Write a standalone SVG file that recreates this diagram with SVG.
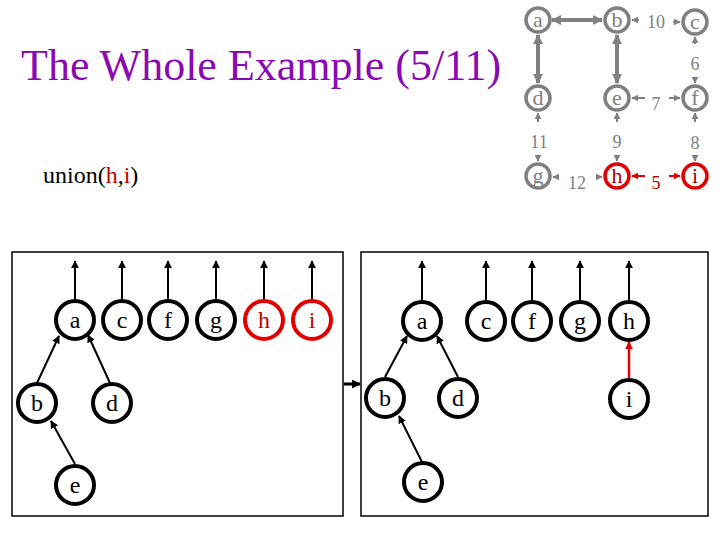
<svg xmlns="http://www.w3.org/2000/svg" width="720" height="540" viewBox="0 0 720 540">
<defs>
<style>
text{font-family:"Liberation Serif","Times New Roman",Times,"DejaVu Serif",serif}
.gn{fill:#fff;stroke:#808080;stroke-width:3.5}
.gr{fill:#fff;stroke:#e00000;stroke-width:3.5}
.gt{font-size:22px;fill:#808080;text-anchor:middle}
.rt{font-size:22px;fill:#b00000;text-anchor:middle}
.wl{font-size:18px;fill:#808080;text-anchor:middle}
.wr{font-size:18px;fill:#b00000;text-anchor:middle}
.thick{stroke:#808080;stroke-width:4;fill:none}
.thin{stroke:#808080;stroke-width:2;fill:none}
.thinr{stroke:#e00000;stroke-width:2;fill:none}
.bn{fill:#fff;stroke:#000;stroke-width:4}
.bnr{fill:#fff;stroke:#e00000;stroke-width:4}
.bt{font-size:24px;fill:#000;text-anchor:middle}
.btr{font-size:24px;fill:#c00000;text-anchor:middle}
.bl{stroke:#000;stroke-width:2;fill:none}
.blr{stroke:#e00000;stroke-width:2.5;fill:none}
</style>
<marker id="ga" viewBox="0 0 10 10" refX="9" refY="5" markerWidth="10" markerHeight="10" markerUnits="userSpaceOnUse" orient="auto-start-reverse"><path d="M0,0 L10,5 L0,10 z" fill="#808080"/></marker>
<marker id="gs" viewBox="0 0 10 10" refX="9" refY="5" markerWidth="7" markerHeight="7" markerUnits="userSpaceOnUse" orient="auto"><path d="M0,0 L10,5 L0,10 z" fill="#808080"/></marker>
<marker id="rs" viewBox="0 0 10 10" refX="9" refY="5" markerWidth="7" markerHeight="7" markerUnits="userSpaceOnUse" orient="auto"><path d="M0,0 L10,5 L0,10 z" fill="#e00000"/></marker>
<marker id="ba" viewBox="0 0 10 10" refX="9" refY="5" markerWidth="8" markerHeight="8" markerUnits="userSpaceOnUse" orient="auto"><path d="M0,0 L10,5 L0,10 z" fill="#000"/></marker>
<marker id="ra" viewBox="0 0 10 10" refX="9" refY="5" markerWidth="8" markerHeight="8" markerUnits="userSpaceOnUse" orient="auto"><path d="M0,0 L10,5 L0,10 z" fill="#e00000"/></marker>
<marker id="bb" viewBox="0 0 10 10" refX="9" refY="5" markerWidth="9" markerHeight="9" markerUnits="userSpaceOnUse" orient="auto"><path d="M0,0 L10,5 L0,10 z" fill="#000"/></marker>
</defs>
<rect width="720" height="540" fill="#fff"/>
<text x="21" y="80" font-size="44" fill="#8a0ab4">The Whole Example (5/11)</text>
<text x="43" y="183" font-size="24" fill="#000">union(<tspan fill="#c00000">h</tspan>,<tspan fill="#c00000">i</tspan>)</text>

<g id="connectors">
<line class="thick" x1="552" y1="20" x2="602" y2="20" marker-start="url(#ga)" marker-end="url(#ga)"/>
<line class="thick" x1="538" y1="35" x2="538" y2="83" marker-start="url(#ga)" marker-end="url(#ga)"/>
<line class="thick" x1="617" y1="35" x2="617" y2="83" marker-start="url(#ga)" marker-end="url(#ga)"/>
<line class="thin" x1="639" y1="20" x2="632" y2="20" marker-end="url(#gs)"/>
<line class="thin" x1="673" y1="22" x2="680" y2="22" marker-end="url(#gs)"/>
<line class="thin" x1="695" y1="44" x2="695" y2="37" marker-end="url(#gs)"/>
<line class="thin" x1="695" y1="79" x2="695" y2="83" marker-end="url(#gs)"/>
<line class="thin" x1="645" y1="98" x2="632" y2="98" marker-end="url(#gs)"/>
<line class="thin" x1="669" y1="98" x2="680" y2="98" marker-end="url(#gs)"/>
<line class="thin" x1="538" y1="122" x2="538" y2="113" marker-end="url(#gs)"/>
<line class="thin" x1="538" y1="157" x2="538" y2="161" marker-end="url(#gs)"/>
<line class="thin" x1="617" y1="122" x2="617" y2="113" marker-end="url(#gs)"/>
<line class="thin" x1="617" y1="157" x2="617" y2="161" marker-end="url(#gs)"/>
<line class="thin" x1="695" y1="122" x2="695" y2="113" marker-end="url(#gs)"/>
<line class="thin" x1="695" y1="157" x2="695" y2="161" marker-end="url(#gs)"/>
<line class="thin" x1="557" y1="177" x2="553" y2="177" marker-end="url(#gs)"/>
<line class="thin" x1="598" y1="177" x2="602" y2="177" marker-end="url(#gs)"/>
<line class="thinr" x1="645" y1="176" x2="632" y2="176" marker-end="url(#rs)"/>
<line class="thinr" x1="669" y1="176" x2="680" y2="176" marker-end="url(#rs)"/>
<line class="bl" x1="75" y1="299" x2="75" y2="261" marker-end="url(#ba)"/>
<line class="bl" x1="122" y1="299" x2="122" y2="261" marker-end="url(#ba)"/>
<line class="bl" x1="168" y1="299" x2="168" y2="261" marker-end="url(#ba)"/>
<line class="bl" x1="216" y1="299" x2="216" y2="261" marker-end="url(#ba)"/>
<line class="bl" x1="264" y1="299" x2="264" y2="261" marker-end="url(#ba)"/>
<line class="bl" x1="312" y1="299" x2="312" y2="261" marker-end="url(#ba)"/>
<line class="bl" x1="37" y1="383" x2="59" y2="336" marker-end="url(#ba)"/>
<line class="bl" x1="110" y1="383" x2="88" y2="335" marker-end="url(#ba)"/>
<line class="bl" x1="75" y1="464" x2="51" y2="421" marker-end="url(#ba)"/>
<line class="bl" x1="422" y1="300" x2="422" y2="261" marker-end="url(#ba)"/>
<line class="bl" x1="486" y1="300" x2="486" y2="261" marker-end="url(#ba)"/>
<line class="bl" x1="532" y1="300" x2="532" y2="261" marker-end="url(#ba)"/>
<line class="bl" x1="580" y1="300" x2="580" y2="261" marker-end="url(#ba)"/>
<line class="bl" x1="629" y1="300" x2="629" y2="261" marker-end="url(#ba)"/>
<line class="blr" x1="629" y1="378" x2="629" y2="342" marker-end="url(#ra)"/>
<line class="bl" x1="385" y1="377" x2="407" y2="336" marker-end="url(#ba)"/>
<line class="bl" x1="458" y1="377" x2="437" y2="336" marker-end="url(#ba)"/>
<line class="bl" x1="422" y1="462" x2="399" y2="416" marker-end="url(#ba)"/>
<line x1="344" y1="384" x2="360" y2="384" stroke="#000" stroke-width="3" marker-end="url(#bb)"/>
</g>

<g id="weights">
<text class="wl" x="656" y="28">10</text>
<text class="wl" x="695" y="70">6</text>
<text class="wl" x="656" y="110">7</text>
<text class="wl" x="539" y="148">11</text>
<text class="wl" x="617" y="148">9</text>
<text class="wl" x="695" y="149">8</text>
<text class="wl" x="577" y="189">12</text>
<text class="wr" x="656" y="189">5</text>
</g>

<g id="top-a"><circle class="gn" cx="538" cy="20" r="12"/><text class="gt" x="538" y="27">a</text></g>
<g id="top-b"><circle class="gn" cx="617" cy="20" r="12"/><text class="gt" x="617" y="27">b</text></g>
<g id="top-c"><circle class="gn" cx="695" cy="22" r="12"/><text class="gt" x="695" y="29">c</text></g>
<g id="top-d"><circle class="gn" cx="538" cy="98" r="12"/><text class="gt" x="538" y="105">d</text></g>
<g id="top-e"><circle class="gn" cx="617" cy="98" r="12"/><text class="gt" x="617" y="105">e</text></g>
<g id="top-f"><circle class="gn" cx="695" cy="98" r="12"/><text class="gt" x="695" y="105">f</text></g>
<g id="top-g"><circle class="gn" cx="538" cy="176" r="12"/><text class="gt" x="538" y="183">g</text></g>
<g id="top-h"><circle class="gr" cx="617" cy="176" r="12"/><text class="rt" x="617" y="183">h</text></g>
<g id="top-i"><circle class="gr" cx="695" cy="176" r="12"/><text class="rt" x="695" y="183">i</text></g>

<g id="left-box"><rect x="12" y="252" width="331" height="264" fill="none" stroke="#000" stroke-width="1.5"/></g>
<g id="L-a"><circle class="bn" cx="75" cy="320" r="19"/><text class="bt" x="75" y="328">a</text></g>
<g id="L-c"><circle class="bn" cx="122" cy="320" r="19"/><text class="bt" x="122" y="328">c</text></g>
<g id="L-f"><circle class="bn" cx="168" cy="320" r="19"/><text class="bt" x="168" y="328">f</text></g>
<g id="L-g"><circle class="bn" cx="216" cy="320" r="19"/><text class="bt" x="216" y="328">g</text></g>
<g id="L-h"><circle class="bnr" cx="264" cy="320" r="19"/><text class="btr" x="264" y="328">h</text></g>
<g id="L-i"><circle class="bnr" cx="312" cy="320" r="19"/><text class="btr" x="312" y="328">i</text></g>
<g id="L-b"><circle class="bn" cx="37" cy="403" r="19"/><text class="bt" x="37" y="411">b</text></g>
<g id="L-d"><circle class="bn" cx="112" cy="403" r="19"/><text class="bt" x="112" y="411">d</text></g>
<g id="L-e"><circle class="bn" cx="75" cy="485" r="19"/><text class="bt" x="75" y="493">e</text></g>

<g id="right-box"><rect x="361" y="252" width="347" height="264" fill="none" stroke="#000" stroke-width="1.5"/></g>
<g id="R-a"><circle class="bn" cx="422" cy="321" r="19"/><text class="bt" x="422" y="329">a</text></g>
<g id="R-c"><circle class="bn" cx="486" cy="321" r="19"/><text class="bt" x="486" y="329">c</text></g>
<g id="R-f"><circle class="bn" cx="532" cy="321" r="19"/><text class="bt" x="532" y="329">f</text></g>
<g id="R-g"><circle class="bn" cx="580" cy="321" r="19"/><text class="bt" x="580" y="329">g</text></g>
<g id="R-h"><circle class="bn" cx="629" cy="321" r="19"/><text class="bt" x="629" y="329">h</text></g>
<g id="R-b"><circle class="bn" cx="385" cy="398" r="19"/><text class="bt" x="385" y="406">b</text></g>
<g id="R-d"><circle class="bn" cx="458" cy="398" r="19"/><text class="bt" x="458" y="406">d</text></g>
<g id="R-i"><circle class="bn" cx="629" cy="399" r="19"/><text class="bt" x="629" y="407">i</text></g>
<g id="R-e"><circle class="bn" cx="423" cy="482" r="19"/><text class="bt" x="423" y="490">e</text></g>
</svg>
